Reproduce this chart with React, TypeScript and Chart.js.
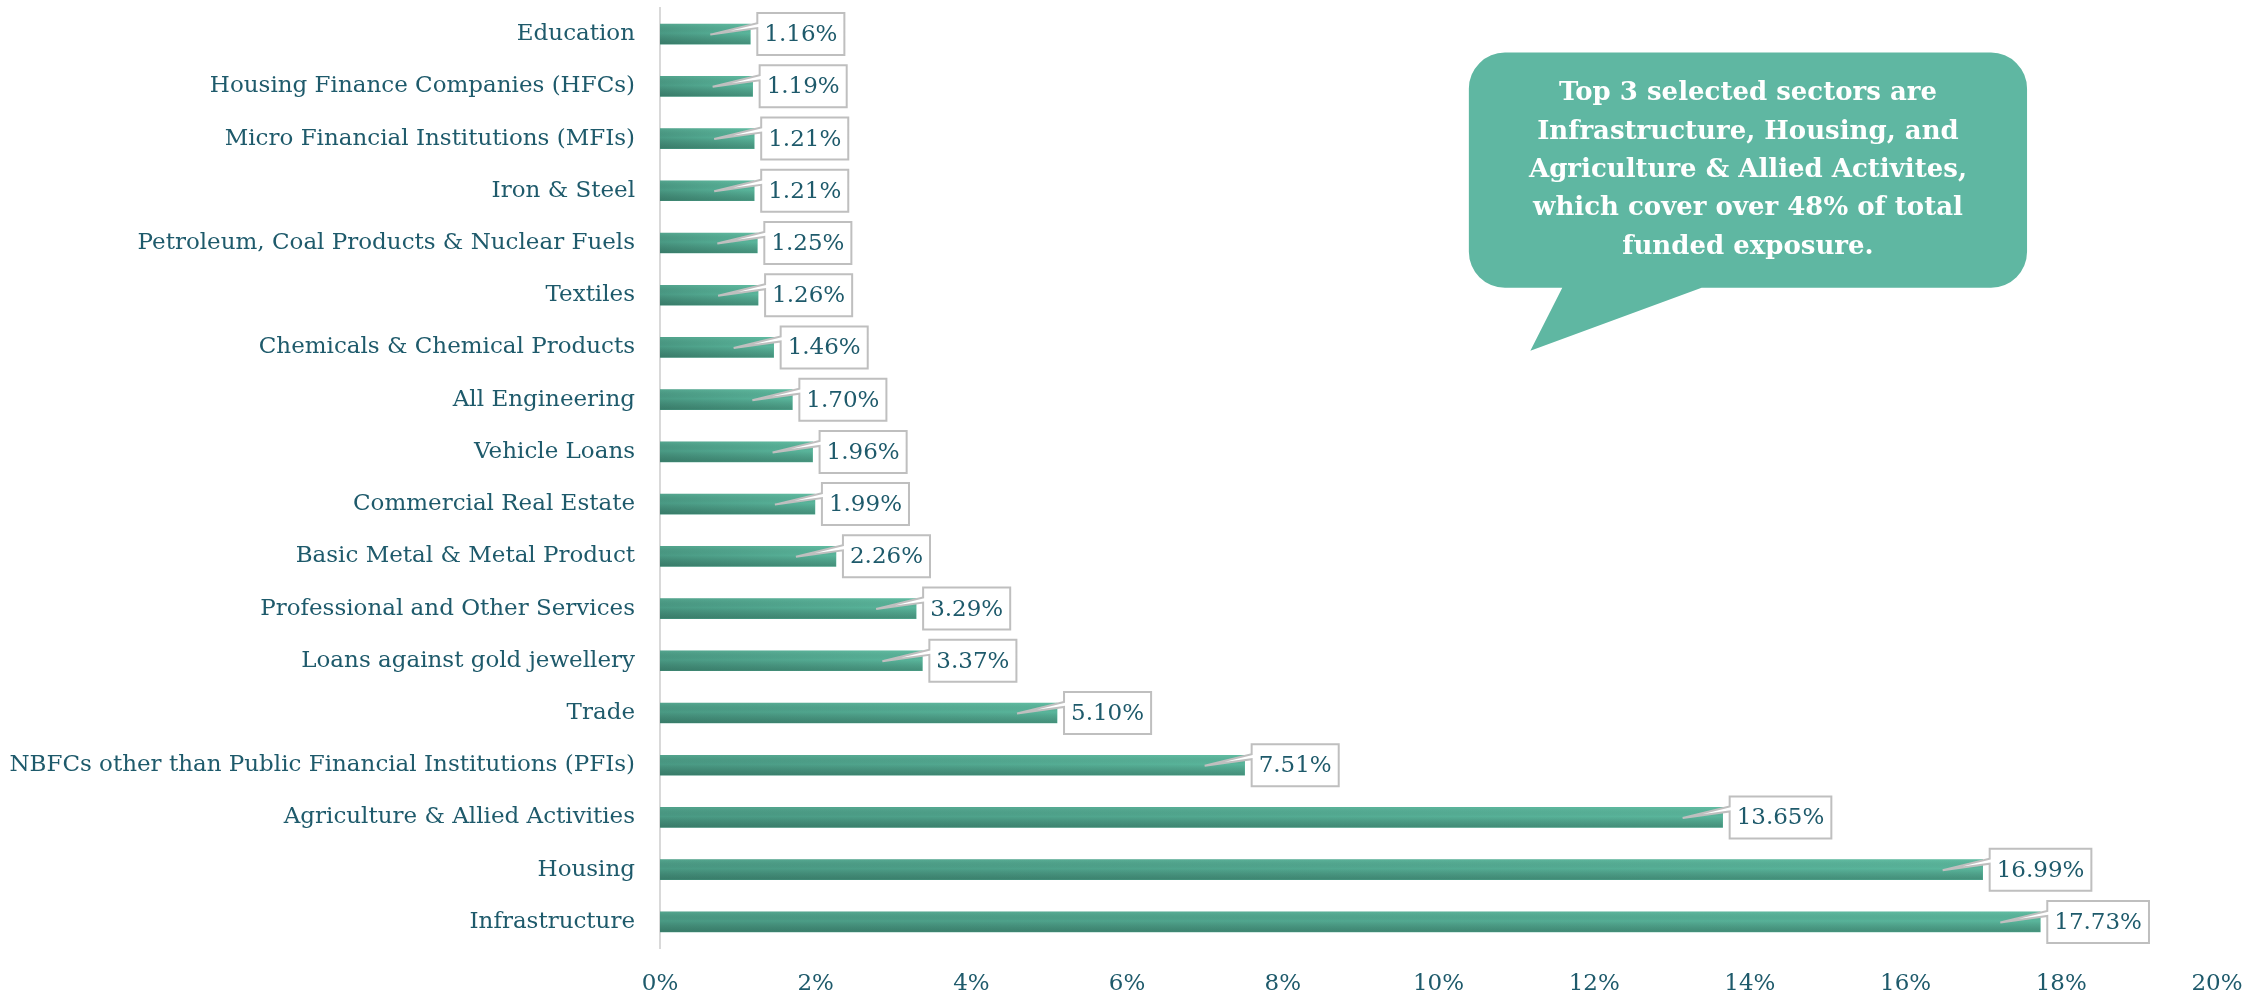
import React, { useEffect, useRef } from 'react';
import { Chart, registerables } from 'chart.js';

Chart.register(...registerables);

const categories = [
  'Education',
  'Housing Finance Companies (HFCs)',
  'Micro Financial Institutions (MFIs)',
  'Iron & Steel',
  'Petroleum, Coal Products & Nuclear Fuels',
  'Textiles',
  'Chemicals & Chemical Products',
  'All Engineering',
  'Vehicle Loans',
  'Commercial Real Estate',
  'Basic Metal & Metal Product',
  'Professional and Other Services',
  'Loans against gold jewellery',
  'Trade',
  'NBFCs other than Public Financial Institutions (PFIs)',
  'Agriculture & Allied Activities',
  'Housing',
  'Infrastructure',
];

const exposureShare = [
  1.16, 1.19, 1.21, 1.21, 1.25, 1.26, 1.46, 1.7, 1.96, 1.99, 2.26, 3.29, 3.37, 5.1, 7.51, 13.65, 16.99, 17.73,
];

const xTickMax = 20;
const xTickStep = 2;

const calloutLines = [
  'Top 3 selected sectors are',
  'Infrastructure, Housing, and',
  'Agriculture & Allied Activites,',
  'which cover over 48% of total',
  'funded exposure.',
];

const FONT = "'DejaVu Serif', serif";
const TEXT = '#1E5A6B';
const BUBBLE = '#5FB7A2';

const barGradient = (c: any) => {
  const chart = c.chart;
  const xs = chart.scales?.x;
  if (!xs || c.type !== 'data' || typeof c.raw !== 'number') return '#52A88F';
  const x0 = xs.getPixelForValue(0);
  const x1 = xs.getPixelForValue(c.raw);
  if (!isFinite(x0) || !isFinite(x1)) return '#52A88F';
  const g = chart.ctx.createLinearGradient(x0, 0, Math.max(x1, x0 + 1), 0);
  g.addColorStop(0, '#4A9A84');
  g.addColorStop(1, '#5AB69C');
  return g;
};

const barShadePlugin = {
  id: 'barShade',
  afterDatasetsDraw(chart: any) {
    const ctx = chart.ctx;
    const meta = chart.getDatasetMeta(0);
    ctx.save();
    meta.data.forEach((el: any) => {
      const { x, y, base, height } = el.getProps(['x', 'y', 'base', 'height'], true);
      if (![x, y, base, height].every((v) => isFinite(v))) return;
      const top = y - height / 2;
      const g = ctx.createLinearGradient(0, top, 0, top + height);
      g.addColorStop(0, 'rgba(140,230,200,0.15)');
      g.addColorStop(0.45, 'rgba(0,0,0,0)');
      g.addColorStop(1, 'rgba(10,45,35,0.28)');
      ctx.fillStyle = g;
      ctx.fillRect(base, top, x - base, height);
    });
    ctx.restore();
  },
};

const labelPlugin = {
  id: 'calloutLabels',
  afterDatasetsDraw(chart: any) {
    const ctx = chart.ctx;
    const meta = chart.getDatasetMeta(0);
    ctx.save();
    ctx.font = `23px ${FONT}`;
    meta.data.forEach((el: any, i: number) => {
      const { x, y } = el.getProps(['x', 'y'], true);
      const text = exposureShare[i].toFixed(2) + '%';
      const tw = ctx.measureText(text).width;
      const w = tw + 14;
      const h = 42;
      const left = x + 7;
      const top = y - h / 2;
      const tipX = x - 40;
      ctx.beginPath();
      ctx.moveTo(left, top);
      ctx.lineTo(left + w, top);
      ctx.lineTo(left + w, top + h);
      ctx.lineTo(left, top + h);
      ctx.lineTo(left, y - 6);
      ctx.lineTo(tipX, y + 0.5);
      ctx.lineTo(left, y - 11);
      ctx.closePath();
      ctx.fillStyle = '#FFFFFF';
      ctx.fill();
      ctx.strokeStyle = '#BFBFBF';
      ctx.lineWidth = 2;
      ctx.stroke();
      ctx.fillStyle = TEXT;
      ctx.textAlign = 'center';
      ctx.textBaseline = 'middle';
      ctx.fillText(text, left + w / 2, y + 1);
    });
    ctx.restore();
  },
};

const bubblePlugin = {
  id: 'bubbleNote',
  afterDraw(chart: any) {
    const xs = chart.scales.x;
    const ys = chart.scales.y;
    const ctx = chart.ctx;
    const l = xs.getPixelForValue(10.39);
    const r = xs.getPixelForValue(17.56);
    const t = ys.getPixelForValue(0.354);
    const b = ys.getPixelForValue(4.856);
    const baseL = xs.getPixelForValue(11.59);
    const baseR = xs.getPixelForValue(13.38);
    const tipX = xs.getPixelForValue(11.18);
    const tipY = ys.getPixelForValue(6.063);
    const rad = 36;
    ctx.save();
    ctx.beginPath();
    ctx.moveTo(l + rad, t);
    ctx.lineTo(r - rad, t);
    ctx.arcTo(r, t, r, t + rad, rad);
    ctx.lineTo(r, b - rad);
    ctx.arcTo(r, b, r - rad, b, rad);
    ctx.lineTo(baseR, b);
    ctx.lineTo(tipX, tipY);
    ctx.lineTo(baseL, b);
    ctx.lineTo(l + rad, b);
    ctx.arcTo(l, b, l, b - rad, rad);
    ctx.lineTo(l, t + rad);
    ctx.arcTo(l, t, l + rad, t, rad);
    ctx.closePath();
    ctx.fillStyle = BUBBLE;
    ctx.fill();
    ctx.fillStyle = '#FFFFFF';
    ctx.font = `bold 26px ${FONT}`;
    ctx.textAlign = 'center';
    ctx.textBaseline = 'middle';
    const cx = (l + r) / 2;
    const cy = (t + b) / 2;
    const lh = 38.3;
    calloutLines.forEach((line, i) => {
      ctx.fillText(line, cx, cy + (i - (calloutLines.length - 1) / 2) * lh);
    });
    ctx.restore();
  },
};

export default function App() {
  const canvasRef = useRef<HTMLCanvasElement | null>(null);

  useEffect(() => {
    document.body.style.margin = '0';
    const canvas = canvasRef.current;
    if (!canvas) return;
    const chart = new Chart(canvas, {
      type: 'bar',
      data: {
        labels: categories,
        datasets: [
          {
            data: exposureShare,
            backgroundColor: barGradient,
            borderWidth: 0,
            barThickness: 20,
          },
        ],
      },
      options: {
        indexAxis: 'y',
        animation: false,
        responsive: true,
        maintainAspectRatio: false,
        layout: { padding: { top: 8, right: 27, bottom: 0, left: 0 } },
        plugins: {
          legend: { display: false },
          tooltip: { enabled: false },
        },
        scales: {
          x: {
            type: 'linear',
            min: 0,
            max: xTickMax,
            ticks: {
              stepSize: xTickStep,
              callback: (v: any) => v + '%',
              color: TEXT,
              font: { family: FONT, size: 23 },
              padding: 22,
              maxRotation: 0,
            },
            grid: { display: false, drawTicks: false },
            border: { display: false },
            afterFit: (s: any) => {
              s.height = 47;
              s.paddingLeft = 0;
              s.paddingRight = 0;
            },
          },
          y: {
            type: 'category',
            ticks: {
              color: TEXT,
              font: { family: FONT, size: 23 },
              padding: 25,
              autoSkip: false,
            },
            grid: { display: false, drawTicks: false },
            border: { display: true, color: '#D9D9D9', width: 2 },
            afterFit: (s: any) => {
              s.width = 660;
              s.paddingTop = 0;
              s.paddingBottom = 0;
            },
          },
        },
      },
      plugins: [barShadePlugin, labelPlugin, bubblePlugin],
    });
    return () => chart.destroy();
  }, []);

  return (
    <div style={{ position: 'fixed', left: 0, top: 0, width: '100vw', height: '100vh' }}>
      <canvas ref={canvasRef} />
    </div>
  );
}
